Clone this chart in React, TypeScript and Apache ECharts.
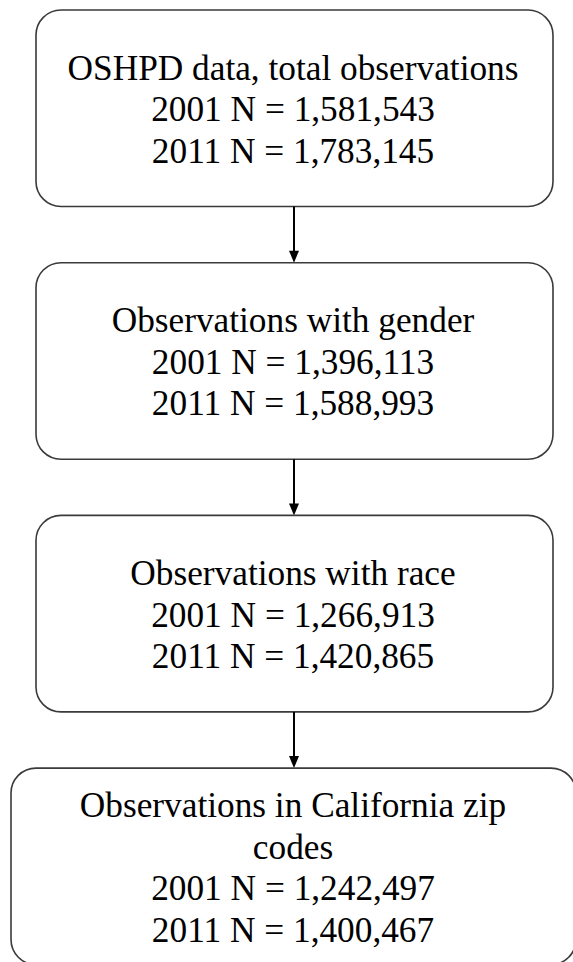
import React, { useEffect, useRef } from "react";
import * as echarts from "echarts";

// ---- data ----
const STEPS = [
  "OSHPD data, total observations",
  "Observations with gender",
  "Observations with race",
  "Observations in California zip\ncodes",
];
const YEARS = ["2001", "2011"];
const N_2001 = [1581543, 1396113, 1266913, 1242497];
const N_2011 = [1783145, 1588993, 1420865, 1400467];

// ---- layout ----
const W = 573;
const H = 962;
const FONT_SIZE = 35.3;
const LINE_H = 41.5;
const BOX_TOP0 = 10;
const BOX_STEP = 252.7;
const BOX_H = 196.5;
const BOX_R = 25;
const ARROW_X = 294;
const TEXT_X = 293;
const BOX_X = [
  [36, 553],
  [36, 553],
  [36, 553],
  [11, 576],
];

const fmt = (v: number) => v.toLocaleString("en-US");

export default function App() {
  const ref = useRef<HTMLDivElement>(null);
  useEffect(() => {
    document.body.style.margin = "0";
    const chart = echarts.init(ref.current!, null, { renderer: "svg" });
    const elements: any[] = [];
    STEPS.forEach((title, i) => {
      const top = BOX_TOP0 + i * BOX_STEP;
      const [x0, x1] = BOX_X[i];
      elements.push({
        type: "rect",
        shape: { x: x0, y: top, width: x1 - x0, height: BOX_H, r: BOX_R },
        style: { fill: "#ffffff", stroke: "#3a3a3a", lineWidth: 1.6 },
      });
      const lines = [
        ...title.split("\n"),
        `${YEARS[0]} N = ${fmt(N_2001[i])}`,
        `${YEARS[1]} N = ${fmt(N_2011[i])}`,
      ];
      const cy = top + BOX_H / 2 + 1.5;
      lines.forEach((t, k) => {
        elements.push({
          type: "text",
          style: {
            text: t,
            x: TEXT_X,
            y: cy + (k - (lines.length - 1) / 2) * LINE_H,
            align: "center",
            verticalAlign: "middle",
            textAlign: "center",
            textVerticalAlign: "middle",
            fontSize: FONT_SIZE,
            fontFamily: '"Liberation Serif", "Times New Roman", serif',
            fill: "#000000",
          },
        });
      });
      if (i < STEPS.length - 1) {
        const y0 = top + BOX_H;
        const y1 = BOX_TOP0 + (i + 1) * BOX_STEP;
        elements.push({
          type: "line",
          shape: { x1: ARROW_X, y1: y0, x2: ARROW_X, y2: y1 - 10 },
          style: { stroke: "#000000", lineWidth: 2 },
        });
        elements.push({
          type: "polygon",
          shape: {
            points: [
              [ARROW_X - 5, y1 - 12],
              [ARROW_X + 5, y1 - 12],
              [ARROW_X, y1],
            ],
          },
          style: { fill: "#000000" },
        });
      }
    });
    chart.setOption({
      animation: false,
      backgroundColor: "#ffffff",
      graphic: { elements },
    });
    return () => chart.dispose();
  }, []);
  return <div ref={ref} style={{ width: W, height: H }} />;
}
